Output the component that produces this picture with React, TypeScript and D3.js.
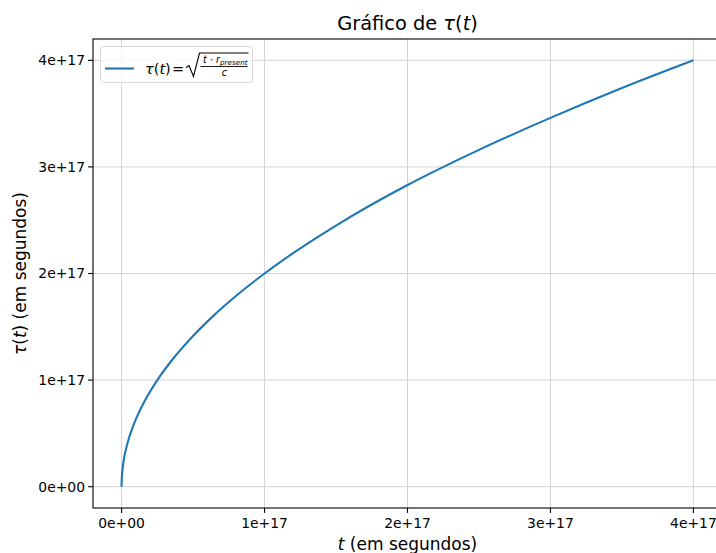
import { useEffect, useRef } from "react";
import * as d3 from "d3";

// t (seconds) and tau(t) (seconds)
const tValues = [0, 0.0004e17, 0.0025e17, 0.01e17, 0.04e17, 0.09e17, 0.16e17, 0.25e17, 0.36e17, 0.49e17, 0.64e17, 0.81e17, 1.0e17, 1.21e17, 1.5e17, 2.0e17, 2.5e17, 3.0e17, 3.5e17, 4.0e17];
const tauValues = [0, 0.04e17, 0.1e17, 0.2e17, 0.4e17, 0.6e17, 0.8e17, 1.0e17, 1.2e17, 1.4e17, 1.6e17, 1.8e17, 2.0e17, 2.2e17, 2.45e17, 2.83e17, 3.16e17, 3.46e17, 3.74e17, 4.0e17];
const xTicks = [0, 1e17, 2e17, 3e17, 4e17];
const yTicks = [0, 1e17, 2e17, 3e17, 4e17];
const tickLabels = ["0e+00", "1e+17", "2e+17", "3e+17", "4e+17"];

const W = 716,
  H = 553;
const FONT = "DejaVu Sans, sans-serif";

const App = () => {
  const ref = useRef<SVGSVGElement>(null);

  useEffect(() => {
    const svg = d3.select(ref.current);
    svg.selectAll("*").remove();

    const left = 93,
      right = 722,
      top = 39,
      bottom = 508;
    const pad = 0.05 * 4e17;
    const x = d3.scaleLinear().domain([-pad, 4e17 + pad]).range([left, right]);
    const y = d3.scaleLinear().domain([-pad, 4e17 + pad]).range([bottom, top]);

    svg.append("rect").attr("width", W).attr("height", H).attr("fill", "#fff");

    // grid
    const grid = svg.append("g").attr("stroke", "#d3d3d3").attr("stroke-width", 1);
    xTicks.forEach((t) =>
      grid.append("line").attr("x1", x(t)).attr("x2", x(t)).attr("y1", top).attr("y2", bottom)
    );
    yTicks.forEach((t) =>
      grid.append("line").attr("x1", left).attr("x2", right).attr("y1", y(t)).attr("y2", y(t))
    );

    // curve
    const data = tValues.map((t, i) => ({ t, v: tauValues[i] }));
    svg
      .append("path")
      .datum(data)
      .attr("fill", "none")
      .attr("stroke", "#1f77b4")
      .attr("stroke-width", 2.1)
      .attr(
        "d",
        d3
          .line<{ t: number; v: number }>()
          .x((d) => x(d.t))
          .y((d) => y(d.v))
          .curve(d3.curveMonotoneX)
      );

    // spines
    svg
      .append("rect")
      .attr("x", left)
      .attr("y", top)
      .attr("width", right - left)
      .attr("height", bottom - top)
      .attr("fill", "none")
      .attr("stroke", "#000")
      .attr("stroke-width", 1.1);

    // ticks
    const xa = svg.append("g").attr("font-family", FONT).attr("font-size", 13.9);
    xTicks.forEach((t, i) => {
      xa.append("line").attr("x1", x(t)).attr("x2", x(t)).attr("y1", bottom).attr("y2", bottom + 4.9).attr("stroke", "#000").attr("stroke-width", 1.1);
      xa.append("text").attr("x", x(t)).attr("y", bottom + 20).attr("text-anchor", "middle").attr("fill", "#000").text(tickLabels[i]);
    });
    const ya = svg.append("g").attr("font-family", FONT).attr("font-size", 13.9);
    yTicks.forEach((t, i) => {
      ya.append("line").attr("x1", left - 4.9).attr("x2", left).attr("y1", y(t)).attr("y2", y(t)).attr("stroke", "#000").attr("stroke-width", 1.1);
      ya.append("text").attr("x", left - 8).attr("y", y(t)).attr("dy", "0.35em").attr("text-anchor", "end").attr("fill", "#000").text(tickLabels[i]);
    });

    // title
    const title = svg
      .append("text")
      .attr("x", (left + right) / 2)
      .attr("y", 30)
      .attr("text-anchor", "middle")
      .attr("font-family", FONT)
      .attr("font-size", 19.4);
    title.append("tspan").text("Gráfico de ");
    title.append("tspan").attr("font-style", "italic").text("τ");
    title.append("tspan").text("(");
    title.append("tspan").attr("font-style", "italic").text("t");
    title.append("tspan").text(")");

    // x label
    const xl = svg
      .append("text")
      .attr("x", (left + right) / 2)
      .attr("y", 550)
      .attr("text-anchor", "middle")
      .attr("font-family", FONT)
      .attr("font-size", 17);
    xl.append("tspan").attr("font-style", "italic").text("t");
    xl.append("tspan").text(" (em segundos)");

    // y label
    const yl = svg
      .append("text")
      .attr("transform", `translate(26,${(top + bottom) / 2}) rotate(-90)`)
      .attr("text-anchor", "middle")
      .attr("font-family", FONT)
      .attr("font-size", 17);
    yl.append("tspan").attr("font-style", "italic").text("τ");
    yl.append("tspan").text("(");
    yl.append("tspan").attr("font-style", "italic").text("t");
    yl.append("tspan").text(") (em segundos)");

    // legend
    const lg = svg.append("g").attr("font-family", FONT);
    lg.append("rect")
      .attr("x", 100.5)
      .attr("y", 46.5)
      .attr("width", 152)
      .attr("height", 36)
      .attr("rx", 3)
      .attr("fill", "#fff")
      .attr("fill-opacity", 0.8)
      .attr("stroke", "#d9d9d9")
      .attr("stroke-width", 1);
    lg.append("line").attr("x1", 105).attr("x2", 134).attr("y1", 68.5).attr("y2", 68.5).attr("stroke", "#1f77b4").attr("stroke-width", 2.1);
    const lt = lg.append("text").attr("x", 145).attr("y", 73.5).attr("font-size", 14.5);
    lt.append("tspan").attr("font-style", "italic").text("τ");
    lt.append("tspan").text("(");
    lt.append("tspan").attr("font-style", "italic").text("t");
    lt.append("tspan").text(")");
    lg.append("text").attr("x", 172).attr("y", 73.5).attr("font-size", 14.5).text("=");
    // radical sign
    lg.append("path")
      .attr("d", "M186,67.5 L189,65.5 L193.5,76.5 L199.5,53 L248.5,53")
      .attr("fill", "none")
      .attr("stroke", "#000")
      .attr("stroke-width", 1.1);
    const num = lg.append("text").attr("x", 203).attr("y", 62.5).attr("font-size", 9.7);
    num.append("tspan").attr("font-style", "italic").text("t");
    num.append("tspan").text(" · ");
    num.append("tspan").attr("font-style", "italic").text("r");
    num.append("tspan").attr("font-style", "italic").attr("font-size", 7.2).attr("dy", 2).text("present");
    lg.append("line").attr("x1", 200.5).attr("x2", 247.5).attr("y1", 66.5).attr("y2", 66.5).attr("stroke", "#000").attr("stroke-width", 0.9);
    lg.append("text").attr("x", 224.5).attr("y", 75.5).attr("text-anchor", "middle").attr("font-size", 9.7).attr("font-style", "italic").text("c");
  }, []);

  return (
    <svg
      ref={ref}
      width={W}
      height={H}
      style={{ position: "absolute", left: 0, top: 0, display: "block" }}
    />
  );
};

export default App;
